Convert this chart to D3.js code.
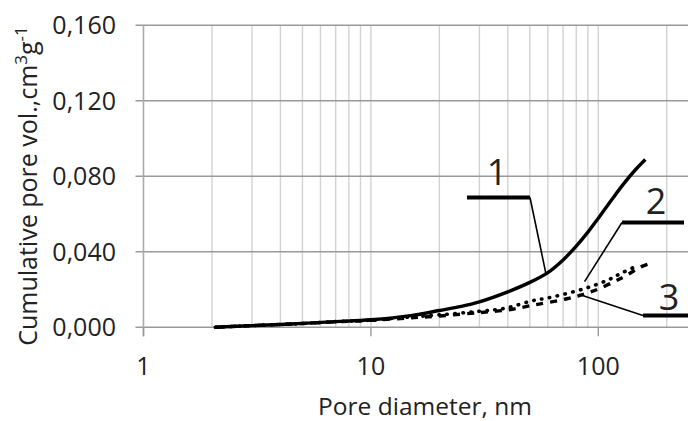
<!DOCTYPE html>
<html>
<head>
<meta charset="utf-8">
<script src="https://cdn.jsdelivr.net/npm/d3@7"></script>
<style>
  html, body { margin: 0; padding: 0; background: #fff; }
  svg { display: block; }
  text { font-family: "Open Sans", "Noto Sans", sans-serif; fill: #222; }
</style>
</head>
<body>
<svg id="chart" width="688" height="421"></svg>
<script>
// Cumulative pore volume (cm3/g) against pore diameter (nm), three samples
const diam1 = [2.07, 3, 4, 5, 7, 10, 15, 20, 25, 30, 40, 50, 60, 70, 80, 90, 100, 115, 130, 145, 161];
const vol1  = [0.000, 0.0009, 0.0015, 0.0021, 0.0030, 0.0040, 0.0062, 0.0089, 0.0111, 0.0135, 0.0188, 0.0238, 0.0290, 0.0357, 0.0430, 0.0504, 0.0578, 0.0679, 0.0764, 0.0832, 0.0889];

const diam2 = [2.07, 3, 5, 7, 10, 14, 20, 30, 39, 51, 62, 87, 110, 126, 148];
const vol2  = [0.000, 0.0009, 0.0020, 0.0030, 0.0038, 0.0052, 0.0066, 0.0085, 0.0101, 0.0140, 0.0159, 0.0205, 0.0250, 0.0286, 0.0325];

const diam3 = [2.07, 3, 5, 7, 10, 14, 20, 30, 40, 52, 72, 94, 126, 154, 165];
const vol3  = [0.000, 0.0009, 0.0020, 0.0029, 0.0037, 0.0048, 0.0060, 0.0078, 0.0092, 0.0118, 0.0150, 0.0190, 0.0260, 0.0320, 0.0334];

const yTicks = [0, 0.04, 0.08, 0.12, 0.16];
const yTickLabels = ["0,000", "0,040", "0,080", "0,120", "0,160"];
const xTicks = [1, 10, 100];
const xTickLabels = ["1", "10", "100"];

const W = 688, H = 421;
const svg = d3.select("#chart");

const x = d3.scaleLog().domain([1, 1000]).range([143.5, 143.5 + 3 * 227.4]);
const y = d3.scaleLinear().domain([0, 0.16]).range([327.3, 25.3]);

// minor vertical grid (2..9 in each decade, plus 10 and 100)
const minor = [];
[1, 10, 100].forEach(b => { for (let k = 2; k <= 9; k++) minor.push(b * k); });
minor.push(10, 100);
svg.append("g").selectAll("line").data(minor.filter(v => x(v) < W)).join("line")
  .attr("x1", d => x(d)).attr("x2", d => x(d))
  .attr("y1", y(0.16)).attr("y2", y(0))
  .attr("stroke", "#d2d2d2").attr("stroke-width", 1.4);

// horizontal grid
svg.append("g").selectAll("line").data(yTicks).join("line")
  .attr("x1", x(1) - 8).attr("x2", W)
  .attr("y1", d => y(d)).attr("y2", d => y(d))
  .attr("stroke", "#999").attr("stroke-width", 1.4);

// y axis line
svg.append("line")
  .attr("x1", x(1)).attr("x2", x(1))
  .attr("y1", y(0.16)).attr("y2", y(0) + 9)
  .attr("stroke", "#aaa").attr("stroke-width", 1.6);

// x tick marks
svg.append("g").selectAll("line").data(xTicks).join("line")
  .attr("x1", d => x(d)).attr("x2", d => x(d))
  .attr("y1", y(0)).attr("y2", y(0) + 9)
  .attr("stroke", "#999").attr("stroke-width", 1.4);

// tick labels
svg.append("g").selectAll("text").data(yTicks).join("text")
  .attr("x", 116).attr("y", d => y(d) + 9)
  .attr("text-anchor", "end").attr("font-size", 25)
  .text((d, i) => yTickLabels[i]);

svg.append("g").selectAll("text").data(xTicks).join("text")
  .attr("x", d => x(d)).attr("y", 375)
  .attr("text-anchor", "middle").attr("font-size", 25)
  .text((d, i) => xTickLabels[i]);

// axis titles
svg.append("text")
  .attr("x", 425).attr("y", 415)
  .attr("text-anchor", "middle").attr("font-size", 24.5)
  .text("Pore diameter, nm");

const yt = svg.append("text")
  .attr("transform", "translate(37,186) rotate(-90)")
  .attr("text-anchor", "middle").attr("font-size", 25);
yt.append("tspan").text("Cumulative pore vol.,cm");
yt.append("tspan").attr("font-size", 17).attr("dy", -10).text("3");
yt.append("tspan").attr("dy", 10).text("g");
yt.append("tspan").attr("font-size", 17).attr("dy", -10).text("-1");

// curves
const line = d3.line().x(d => x(d[0])).y(d => y(d[1])).curve(d3.curveCatmullRom.alpha(0.5));
const plot = svg.append("g");
plot.append("path").datum(d3.zip(diam3, vol3)).attr("d", line)
  .attr("fill", "none").attr("stroke", "#000").attr("stroke-width", 3.4)
  .attr("stroke-dasharray", "7,7");
plot.append("path").datum(d3.zip(diam2, vol2)).attr("d", line)
  .attr("fill", "none").attr("stroke", "#000").attr("stroke-width", 3.6)
  .attr("stroke-linecap", "round").attr("stroke-dasharray", "0.5,7.5");
plot.append("path").datum(d3.zip(diam1, vol1)).attr("d", line)
  .attr("fill", "none").attr("stroke", "#000").attr("stroke-width", 3.4)
  .attr("stroke-linejoin", "round");

// curve labels with leader lines
const labels = [
  { t: "1", tx: 497, ty: 185, bar: [467, 530, 197.5], from: 530, tip: [58.8, 0.0286] },
  { t: "2", tx: 656, ty: 214, bar: [622, 684, 222.5], from: 622, tip: [87, 0.0242] },
  { t: "3", tx: 669, ty: 310, bar: [643, 700, 315.5], from: 643, tip: [82, 0.0175] }
];
labels.forEach(l => {
  svg.append("line")
    .attr("x1", l.bar[0]).attr("x2", l.bar[1]).attr("y1", l.bar[2]).attr("y2", l.bar[2])
    .attr("stroke", "#000").attr("stroke-width", 4);
  svg.append("line")
    .attr("x1", l.from).attr("y1", l.bar[2])
    .attr("x2", x(l.tip[0])).attr("y2", y(l.tip[1]))
    .attr("stroke", "#000").attr("stroke-width", 1.6);
  svg.append("text")
    .attr("x", l.tx).attr("y", l.ty)
    .attr("text-anchor", "middle").attr("font-size", 36)
    .text(l.t);
});
</script>
</body>
</html>
